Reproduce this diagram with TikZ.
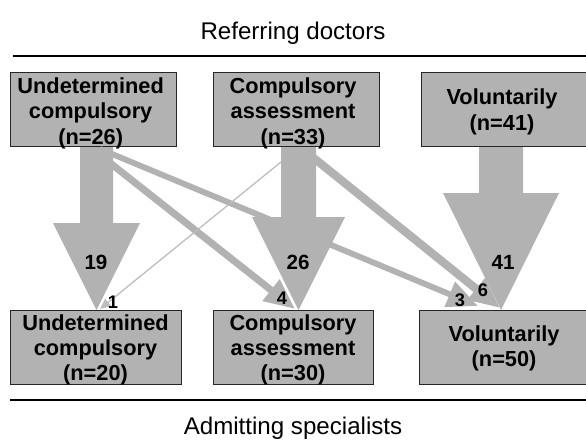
\documentclass[tikz,border=0pt]{standalone}
\usepackage{fontspec}
\setmainfont{Liberation Sans}
\usetikzlibrary{arrows.meta}
\definecolor{flowgray}{gray}{0.70}
\definecolor{thingray}{gray}{0.74}
\tikzset{
  group/.style={draw=black!85, line width=0.8pt, fill=flowgray, inner sep=0pt,
    minimum height=62.9pt},
  boxtext/.style={align=center, inner sep=0pt, font=\fontsize{18.5}{21.5}\selectfont\bfseries},
  heading/.style={font=\fontsize{20.5}{24}\selectfont, anchor=base},
  count/.style={font=\fontsize{17.5}{20}\selectfont\bfseries},
  small/.style={font=\fontsize{15.5}{16}\selectfont\bfseries, inner sep=0pt},
  band/.style={draw=flowgray, -{Triangle[width=22pt,length=26pt]}},
}
\begin{document}
\begin{tikzpicture}[x=0.85pt,y=-0.85pt]
\path[use as bounding box, clip] (0,0) rectangle (586,440);

%headings
\node[heading] (refer) at (293,39) {Referring doctors};
\node[heading] (admit) at (293,434) {Admitting specialists};
\draw[line width=1.2pt] (13,56) -- (586,56);
\draw[line width=1.2pt] (10,400) -- (586,400);

%referring groups
\node[group, minimum width=141.1pt,
  label={[boxtext, xshift=-2pt, yshift=-3.5pt]center:Undetermined\\compulsory\\(n=26)}] (r1) at (93,109) {};
\node[group, minimum width=141.1pt,
  label={[boxtext, xshift=-2.5pt, yshift=-3.5pt]center:Compulsory\\assessment\\(n=33)}] (r2) at (296,109) {};
\node[group, minimum width=147.9pt,
  label={[boxtext, xshift=-5.1pt, yshift=-2.5pt]center:Voluntarily\\(n=41)}] (r3) at (508,109) {};

%admitting groups
\node[group, minimum width=145.4pt,
  label={[boxtext, yshift=-2.5pt]center:Undetermined\\compulsory\\(n=20)}] (a1) at (95.5,347) {};
\node[group, minimum width=136pt,
  label={[boxtext, yshift=-2.5pt]center:Compulsory\\assessment\\(n=30)}] (a2) at (293,347) {};
\node[group, minimum width=149.6pt,
  label={[boxtext, xshift=-2.5pt, yshift=-1pt]center:Voluntarily\\(n=50)}] (a3) at (507,347) {};

%big arrows
\fill[flowgray] (80,147) -- (113,147) -- (113,223) -- (140,223) -- (96.5,310) -- (53,223) -- (80,223) -- cycle;
\fill[flowgray] (281,147) -- (316,147) -- (316,217) -- (345,217) -- (298.5,310) -- (252,217) -- (281,217) -- cycle;
\fill[flowgray] (479,147) -- (523,147) -- (523,193) -- (559,193) -- (501,310) -- (443,193) -- (479,193) -- cycle;
\node[count] (n19) at (96,262) {19};
\node[count] (n26) at (298,262) {26};
\node[count] (n41) at (503,262) {41};

%small flows
\coordinate (s12) at (100,155);
\coordinate (t12) at (295,309);
\coordinate (s13) at (100,149);
\coordinate (t13) at (478,306);
\coordinate (s23) at (305,151);
\coordinate (t23) at (500,308);
\coordinate (s21) at (281,162);
\coordinate (t21) at (100,309);
\draw[band, line width=6pt] (s12) -- (t12);
\draw[band, line width=5pt] (s13) -- (t13);
\draw[band, line width=7pt] (s23) -- (t23);
\draw[thingray, line width=1.1pt, -{Triangle[width=8pt,length=9pt]}] (s21) -- (t21);

%text
\node[small] (n4) at (282,298) {4};
\node[small] (n3) at (460,300) {3};
\node[small] (n6) at (483,290) {6};
\node[small] (n1) at (113,302) {1};
\end{tikzpicture}
\end{document}
